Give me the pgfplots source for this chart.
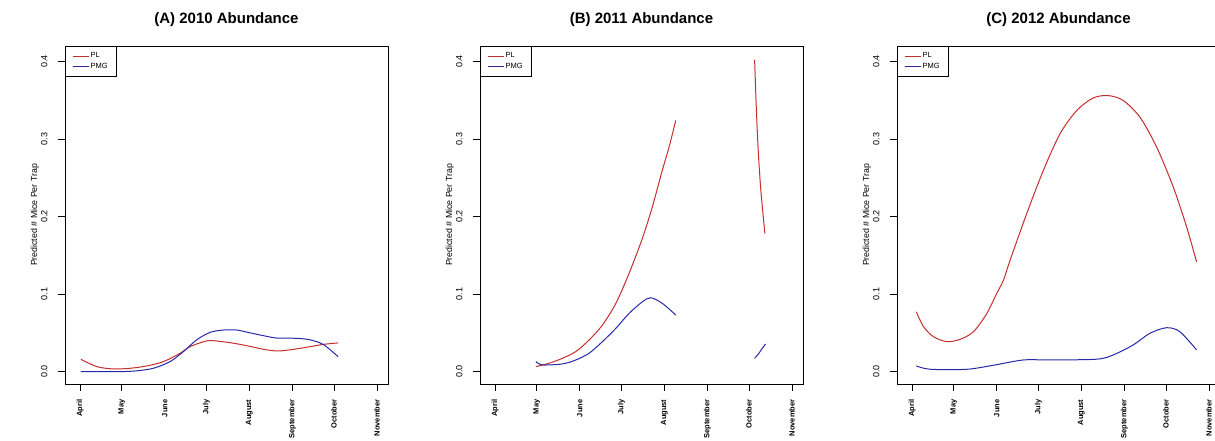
\documentclass[border=0pt]{standalone}
\usepackage{pgfplots}
\pgfplotsset{compat=1.18}
\usepackage{fontspec}
\setmainfont{Liberation Sans}
\definecolor{plred}{RGB}{200,45,45}
\definecolor{plblue}{RGB}{40,40,170}
\pgfplotsset{
  rpanel/.style={
    scale only axis, width=323pt, height=338pt,
    xmin=80, xmax=313, ymin=-0.016, ymax=0.42,
    axis line style={black, line width=0.8pt},
    xtick={91,121,152,182,213,244,274,305},
    xticklabels={April,May,June,July,August,September,October,November},
    ytick={0,0.1,0.2,0.3,0.4},
    tick align=outside, xtick pos=left, ytick pos=left,
    major tick length=7pt,
    tick style={black, line width=0.8pt},
    xticklabel style={rotate=90, anchor=east, font=\bfseries\fontsize{7.5}{8}\selectfont},
    xticklabel shift=5pt,
    yticklabel style={rotate=90, anchor=south, font=\fontsize{9}{10}\selectfont},
    yticklabel shift=7pt,
    /pgf/number format/fixed, /pgf/number format/fixed zerofill,
    /pgf/number format/precision=1, /pgf/number format/assume math mode=true,
    ylabel={Predicted \# Mice Per Trap},
    ylabel style={at={(axis description cs:-0.093,0.5)}, anchor=center, font=\fontsize{8.8}{9}\selectfont},
    title style={at={(0.5,1)}, anchor=base, yshift=16pt, font=\bfseries\fontsize{15}{17}\selectfont},
    legend style={at={(0,1)}, anchor=north west, draw=black, line width=0.6pt, fill=white,
      font=\fontsize{7.5}{8.5}\selectfont, inner xsep=7pt, inner ysep=5pt, row sep=0.5pt,
      nodes={inner sep=1.5pt}},
    legend cell align=left,
    legend image code/.code={\draw[#1, line width=0.8pt] (0pt,0pt) -- (16pt,0pt);},
  },
  pl/.style={plred, line width=1pt, smooth, no marks},
  pmg/.style={plblue, line width=1pt, smooth, no marks},
}
\begin{document}
\begin{tikzpicture}
\useasboundingbox (0,0) rectangle (1215pt,441pt);
% Panel A
\begin{axis}[rpanel, at={(65pt,57pt)}, anchor=south west, title={(A) 2010 Abundance}]
\addplot[pl] coordinates {(91.5,0.0159) (103,0.0064) (115,0.0034) (127,0.0043) (139,0.0073) (151,0.0129) (163,0.0236) (170,0.032) (180,0.0386) (186,0.040) (199,0.0373) (211,0.0335) (223,0.0288) (233,0.0266) (242,0.028) (254,0.0313) (266,0.035) (277,0.037)};
\addlegendentry{PL}
\addplot[pmg] coordinates {(91.5,0.0) (119.8,0.0) (131.8,0.001) (143.8,0.0043) (155.8,0.0129) (165.4,0.0258) (175,0.041) (184.7,0.0506) (194.2,0.0536) (203.9,0.0536) (213.5,0.050) (223,0.0464) (232.7,0.0433) (247.1,0.0429) (256.7,0.041) (266.3,0.035) (277,0.0193)};
\addlegendentry{PMG}
\end{axis}
% Panel B
\begin{axis}[rpanel, at={(480pt,57pt)}, anchor=south west, title={(B) 2011 Abundance}]
\addplot[pl] coordinates {(120.3,0.0064) (129.9,0.0108) (139.5,0.0172) (149.1,0.0258) (158.7,0.0408) (168.3,0.060) (178,0.088) (187.5,0.1266) (197.1,0.1717) (204.3,0.2124) (211.5,0.2596) (216.4,0.2896) (221.2,0.324)};
\addlegendentry{PL}
\addplot[pmg] coordinates {(120.3,0.0129) (125.1,0.0086) (139.5,0.0099) (149.1,0.015) (158.7,0.0237) (168.3,0.0386) (178,0.0558) (187.5,0.075) (197.1,0.090) (203.2,0.0953) (211.5,0.088) (221.2,0.073)};
\addlegendentry{PMG}
\addplot[pl, forget plot] coordinates {(278.1,0.402) (279.3,0.341) (280.7,0.285) (282.4,0.238) (284.1,0.204) (285.5,0.178)};
\addplot[pmg, forget plot] coordinates {(278.1,0.0172) (281.2,0.0237) (283.6,0.030) (286,0.0356)};
\end{axis}
% Panel C
\begin{axis}[rpanel, at={(897pt,57pt)}, anchor=south west, title={(C) 2012 Abundance}]
\addplot[pl] coordinates {(93.9,0.0772) (99.1,0.058) (106.3,0.045) (116,0.0386) (125.6,0.0417) (135.2,0.0515) (144.8,0.075) (152,0.101) (156.8,0.118) (161.6,0.1438) (173.6,0.204) (185.6,0.2596) (197.6,0.3068) (209.7,0.3368) (221.6,0.353) (232.4,0.356) (243.2,0.3497) (255.3,0.328) (267.3,0.2896) (279.3,0.238) (288.9,0.1866) (296.1,0.1416)};
\addlegendentry{PL}
\addplot[pmg] coordinates {(93.9,0.0073) (104,0.003) (130.4,0.003) (149.6,0.0082) (171.2,0.015) (190.4,0.015) (224.1,0.016) (236,0.0215) (250.4,0.0344) (262.4,0.0494) (274.5,0.0566) (284,0.0515) (296.1,0.028)};
\addlegendentry{PMG}
\end{axis}
\end{tikzpicture}
\end{document}
